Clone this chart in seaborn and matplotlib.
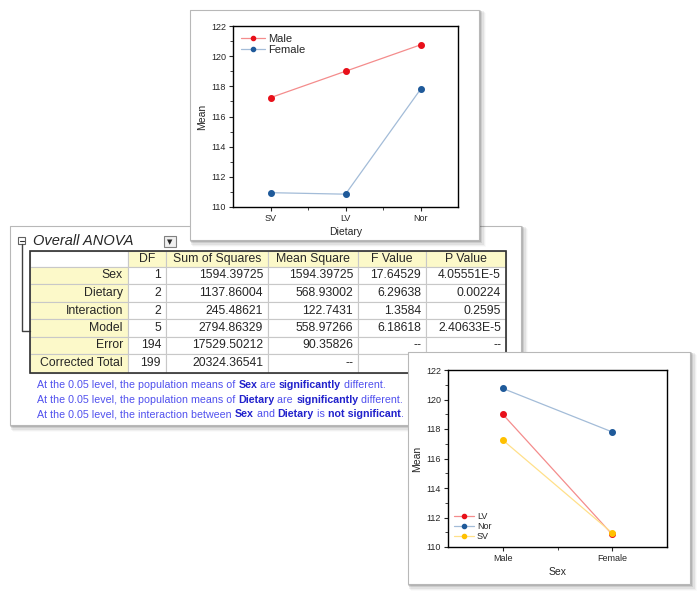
import numpy as np
import pandas as pd
import matplotlib
matplotlib.use("Agg")
import matplotlib.pyplot as plt
from matplotlib.patches import Rectangle
from matplotlib.lines import Line2D
from matplotlib.offsetbox import TextArea, HPacker, AnnotationBbox
from matplotlib.ticker import MultipleLocator, FixedLocator
import seaborn as sns

# data
dietary = ["SV", "LV", "Nor"]
sex = ["Male", "Female"]
male_means = [117.25, 119.0, 120.75]
female_means = [110.95, 110.85, 117.8]
dietary_order2 = ["LV", "Nor", "SV"]

sources = ["Sex", "Dietary", "Interaction", "Model", "Error", "Corrected Total"]
header = ["", "DF", "Sum of Squares", "Mean Square", "F Value", "P Value"]
df_vals = ["1", "2", "2", "5", "194", "199"]
ss_vals = ["1594.39725", "1137.86004", "245.48621", "2794.86329", "17529.50212", "20324.36541"]
ms_vals = ["1594.39725", "568.93002", "122.7431", "558.97266", "90.35826", "--"]
f_vals = ["17.64529", "6.29638", "1.3584", "6.18618", "--", ""]
p_vals = ["4.05551E-5", "0.00224", "0.2595", "2.40633E-5", "--", ""]

notes = [
    [("At the 0.05 level, the population means of ", False), ("Sex", True), (" are ", False),
     ("significantly", True), (" different.", False)],
    [("At the 0.05 level, the population means of ", False), ("Dietary", True), (" are ", False),
     ("significantly", True), (" different.", False)],
    [("At the 0.05 level, the interaction between ", False), ("Sex", True), (" and ", False),
     ("Dietary", True), (" is ", False), ("not significant", True), (".", False)],
]

means = pd.DataFrame({
    "Dietary": dietary * 2,
    "Sex": ["Male"] * 3 + ["Female"] * 3,
    "Mean": male_means + female_means,
})

sns.set_style("ticks")
plt.rcParams["font.family"] = ["Liberation Sans", "DejaVu Sans"]

W, H = 700, 594
fig = plt.figure(figsize=(7, 5.94), dpi=100)

# background layer in pixel coords
bg = fig.add_axes([0, 0, 1, 1])
bg.set_xlim(0, W)
bg.set_ylim(H, 0)
bg.axis("off")


def panel(x0, y0, x1, y1, z):
    for i, a in enumerate([0.12, 0.09, 0.06, 0.04, 0.02]):
        d = i + 1
        bg.add_patch(Rectangle((x0 - 1 + d * 0.8, y0 - 1 + d * 0.8), x1 - x0 + 2 + d * 0.4,
                               y1 - y0 + 2 + d * 0.4, facecolor="k", alpha=a, lw=0, zorder=z))
    bg.add_patch(Rectangle((x0, y0), x1 - x0, y1 - y0, facecolor="white",
                           edgecolor="#b8b8b8", lw=0.8, zorder=z + 0.5))


# table panel
panel(10, 226, 521, 425, 1)

# title, collapse box and dropdown
bg.add_patch(Rectangle((18, 237), 7, 7, facecolor="white", edgecolor="#606060", lw=0.8, zorder=3))
bg.plot([19.5, 23.5], [240.5, 240.5], color="#303030", lw=0.8, zorder=3)
bg.plot([21.5, 21.5, 30], [244, 331, 331], color="#404040", lw=1.0, zorder=3)
bg.text(33, 241, "Overall ANOVA", fontsize=10.5, style="italic", va="center", ha="left", zorder=3)
bg.add_patch(Rectangle((164, 236), 12, 11, facecolor="#f0f0f0", edgecolor="#808080", lw=0.8, zorder=3))
bg.text(170, 242, "\u25bc", fontsize=5, ha="center", va="center", zorder=4, family="DejaVu Sans")

# ANOVA table
col_x = [30, 128, 166, 268, 358, 426, 506]
row_y = [251, 266.7, 284.3, 301.7, 319.3, 336.7, 354.3, 372.7]
yellow = "#fcf9c9"
columns = [sources, df_vals, ss_vals, ms_vals, f_vals, p_vals]
for c in range(6):
    for r in range(7):
        x0, x1 = col_x[c], col_x[c + 1]
        y0, y1 = row_y[r], row_y[r + 1]
        fill = yellow if (r == 0 and c > 0) or (c == 0 and r > 0) else "white"
        bg.add_patch(Rectangle((x0, y0), x1 - x0, y1 - y0, facecolor=fill,
                               edgecolor="#c8c8c8", lw=0.8, zorder=2))
        yc = (y0 + y1) / 2
        if r == 0:
            bg.text((x0 + x1) / 2, yc, header[c], fontsize=8.8, ha="center", va="center", zorder=3)
        else:
            bg.text(x1 - 5, yc, columns[c][r - 1], fontsize=8.8, ha="right", va="center", zorder=3)
bg.add_patch(Rectangle((col_x[0], row_y[0]), col_x[-1] - col_x[0], row_y[-1] - row_y[0],
                       facecolor="none", edgecolor="#303030", lw=1.2, zorder=3))

# significance notes
for i, parts in enumerate(notes):
    boxes = [TextArea(t, textprops=dict(fontsize=7.7, fontweight="bold" if b else "normal",
                                        color="#2222cc" if b else "#5050ee"))
             for t, b in parts]
    pack = HPacker(children=boxes, pad=0, sep=0, align="baseline")
    ab = AnnotationBbox(pack, (37, 385 + i * 14.7), xycoords="data", box_alignment=(0, 0.5),
                        frameon=False, pad=0, zorder=4)
    bg.add_artist(ab)

# plot panels
panel(190, 10, 479, 240, 5)
panel(408, 352, 690, 584, 7)


def fig_rect(x0, y0, x1, y1):
    return [x0 / W, 1 - y1 / H, (x1 - x0) / W, (y1 - y0) / H]


def style_axes(ax, n):
    ax.set_xlim(-0.5, n - 0.5)
    ax.set_ylim(110, 122)
    ax.yaxis.set_major_locator(MultipleLocator(2))
    ax.yaxis.set_minor_locator(MultipleLocator(1))
    ax.xaxis.set_minor_locator(FixedLocator(np.arange(0.5, n - 0.5, 1.0)))
    for s in ax.spines.values():
        s.set_visible(True)
        s.set_linewidth(1.0)
        s.set_color("black")
    ax.tick_params(which="major", length=3, width=0.8, labelsize=6.5, pad=2)
    ax.tick_params(which="minor", length=2, width=0.6)
    ax.set_ylabel("Mean", fontsize=7.5, labelpad=3)


# top chart: Mean by Dietary, hue Sex
ax1 = fig.add_axes(fig_rect(233, 26, 458, 207))
light1 = {"Male": "#f48c8c", "Female": "#a3bcd8"}
dark1 = {"Male": "#e8101a", "Female": "#1f5a9a"}
sns.pointplot(data=means, x="Dietary", y="Mean", hue="Sex", order=dietary, hue_order=sex,
              palette=light1, markers="", errorbar=None, linewidth=0.9, legend=False, ax=ax1)
sns.pointplot(data=means, x="Dietary", y="Mean", hue="Sex", order=dietary, hue_order=sex,
              palette=dark1, markers="o", linestyles="none", markersize=3.0, errorbar=None,
              legend=False, ax=ax1)
style_axes(ax1, 3)
ax1.set_xlabel("Dietary", fontsize=7.5, labelpad=3)
h1 = [Line2D([], [], color=light1[s], lw=0.9, marker="o", markersize=3.0,
             markerfacecolor=dark1[s], markeredgecolor=dark1[s]) for s in sex]
ax1.legend(h1, sex, loc="upper left", frameon=False, fontsize=8, handlelength=2.2,
           handletextpad=0.3, labelspacing=0.1, borderaxespad=0.3)

# bottom chart: Mean by Sex, hue Dietary
ax2 = fig.add_axes(fig_rect(448, 370, 667, 547))
light2 = {"LV": "#f48c8c", "Nor": "#a3bcd8", "SV": "#ffe08a"}
dark2 = {"LV": "#e8101a", "Nor": "#1f5a9a", "SV": "#ffc000"}
sns.pointplot(data=means, x="Sex", y="Mean", hue="Dietary", order=sex, hue_order=dietary_order2,
              palette=light2, markers="", errorbar=None, linewidth=0.9, legend=False, ax=ax2)
sns.pointplot(data=means, x="Sex", y="Mean", hue="Dietary", order=sex, hue_order=dietary_order2,
              palette=dark2, markers="o", linestyles="none", markersize=3.0, errorbar=None,
              legend=False, ax=ax2)
style_axes(ax2, 2)
ax2.set_xlabel("Sex", fontsize=7.5, labelpad=3)
h2 = [Line2D([], [], color=light2[d], lw=0.9, marker="o", markersize=3.0,
             markerfacecolor=dark2[d], markeredgecolor=dark2[d]) for d in dietary_order2]
ax2.legend(h2, dietary_order2, loc="lower left", frameon=False, fontsize=6.5, handlelength=2.2,
           handletextpad=0.3, labelspacing=0.1, borderaxespad=0.3)

fig.savefig("out.png", dpi=100)
